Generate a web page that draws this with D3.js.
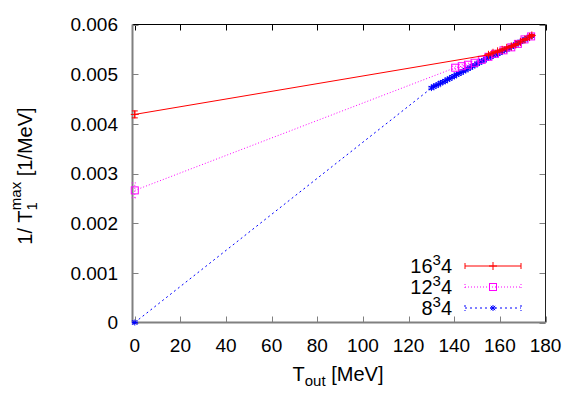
<!DOCTYPE html>
<html>
  <head>
    <meta charset="utf-8">
    <title>1/T1max vs Tout</title>
    <script src="https://d3js.org/d3.v7.min.js"></script>
    <style>
      body { margin: 0; background: #fff; }
      text { font-family: "Liberation Sans", Arial, sans-serif; fill: #000; }
    </style>
  </head>
  <body>
    <script>
      var width = 581, height = 407;

      // tick labels
      var xTicks = [0, 20, 40, 60, 80, 100, 120, 140, 160, 180];
      var yTicks = [0, 0.001, 0.002, 0.003, 0.004, 0.005, 0.006];

      // 16^3 4
      var redT   = [0, 155, 157, 159, 161, 163, 165, 167, 169, 171, 173, 174];
      var redY   = [0.00419, 0.00539, 0.00543, 0.00546, 0.00549, 0.00553, 0.00556, 0.00560, 0.00565, 0.00570, 0.00575, 0.00578];
      var redErr = [0.00007, 0.00002, 0.00002, 0.00002, 0.00002, 0.00002, 0.00002, 0.00002, 0.00002, 0.00002, 0.00002, 0.00002];

      // 12^3 4
      var pinkT   = [0, 140.4, 143.3, 146, 148.9, 152.1, 155, 157.9, 161.6, 165, 167.9, 170.8, 173.7];
      var pinkY   = [0.00266, 0.00513, 0.00516, 0.00519, 0.00523, 0.00529, 0.00535, 0.00541, 0.00548, 0.00554, 0.00561, 0.00570, 0.00576];
      var pinkErr = [0.00015, 0.00003, 0.00003, 0.00003, 0.00003, 0.00003, 0.00003, 0.00003, 0.00003, 0.00003, 0.00003, 0.00003, 0.00003];

      // 8^3 4
      var blueT = [0, 130, 131, 132, 133, 134, 135, 136, 137, 138, 139, 140, 141, 142, 143, 144, 145,
                   146, 147, 148, 149, 150, 151, 152, 153, 154, 155, 156, 157, 158, 159, 160, 161,
                   162, 163, 164, 165, 166, 167, 168, 169, 170, 171, 172, 173, 174];
      var blueY = [0, 0.00472, 0.00475, 0.00477, 0.00479, 0.00482, 0.00484, 0.00486, 0.00489, 0.00491, 0.00494,
                   0.00496, 0.00499, 0.00501, 0.00503, 0.00506, 0.00508, 0.00511, 0.00513, 0.00516, 0.00518,
                   0.00521, 0.00523, 0.00526, 0.00528, 0.00531, 0.00533, 0.00535, 0.00537, 0.00539, 0.00541,
                   0.00543, 0.00546, 0.00548, 0.00550, 0.00552, 0.00555, 0.00557, 0.00560, 0.00562, 0.00565,
                   0.00567, 0.00570, 0.00572, 0.00575, 0.00577];
      var blueErr = 0.00003;

      var series = [
        { base: "16", T: redT, Y: redY, err: redErr, color: "#ff0000", dash: null, mark: "plus" },
        { base: "12", T: pinkT, Y: pinkY, err: pinkErr, color: "#ff00ff", dash: "1,2", mark: "square" },
        { base: "8", T: blueT, Y: blueY, err: blueT.map(() => blueErr), color: "#0000ff", dash: "2,3", mark: "star" }
      ];

      var x = d3.scaleLinear().domain([-1, 180]).range([132.5, 545.5]);
      var y = d3.scaleLinear().domain([0, 0.006]).range([322.5, 24.5]);

      var svg = d3.select("body").append("svg")
          .attr("width", width)
          .attr("height", height);

      svg.append("rect").attr("width", width).attr("height", height).attr("fill", "#fff");

      // ticks (inside, mirrored)
      var tk = svg.append("g").attr("stroke", "#808080").attr("stroke-width", 1);
      xTicks.forEach(function(t) {
        var px = Math.round(x(t)) + 0.5;
        tk.append("line").attr("x1", px).attr("x2", px).attr("y1", y(0)).attr("y2", y(0) - 6);
        tk.append("line").attr("x1", px).attr("x2", px).attr("y1", y(0.006)).attr("y2", y(0.006) + 6).attr("stroke", "#000");
      });
      yTicks.forEach(function(t) {
        var py = Math.round(y(t)) + 0.5;
        tk.append("line").attr("x1", x(-1)).attr("x2", x(-1) + 6).attr("y1", py).attr("y2", py);
        tk.append("line").attr("x1", x(180)).attr("x2", x(180) - 6).attr("y1", py).attr("y2", py);
      });

      // border
      svg.append("line").attr("x1", x(-1)).attr("x2", x(180)).attr("y1", y(0.006)).attr("y2", y(0.006))
          .attr("stroke", "#000");
      svg.append("line").attr("x1", x(180)).attr("x2", x(180)).attr("y1", y(0.006)).attr("y2", y(0))
          .attr("stroke", "#222");
      svg.append("line").attr("x1", x(-1)).attr("x2", x(180)).attr("y1", y(0)).attr("y2", y(0))
          .attr("stroke", "#808080").attr("stroke-width", 2);
      svg.append("line").attr("x1", x(-1)).attr("x2", x(-1)).attr("y1", y(0.006)).attr("y2", y(0))
          .attr("stroke", "#808080").attr("stroke-width", 2);

      // tick labels
      svg.append("g").selectAll("text").data(xTicks).join("text")
          .attr("x", d => x(d)).attr("y", 352)
          .attr("text-anchor", "middle").attr("font-size", 19)
          .text(d => d);
      svg.append("g").selectAll("text").data(yTicks).join("text")
          .attr("x", 118).attr("y", d => y(d)).attr("dy", "0.36em")
          .attr("text-anchor", "end").attr("font-size", 19)
          .text(d => d === 0 ? "0" : d3.format(".3f")(d));

      // axis titles
      var xl = svg.append("text").attr("x", 338).attr("y", 381)
          .attr("text-anchor", "middle").attr("font-size", 20);
      xl.append("tspan").text("T");
      xl.append("tspan").attr("font-size", 15).attr("dy", 5).text("out");
      xl.append("tspan").attr("dy", -5).text(" [MeV]");

      var yl = svg.append("text").attr("transform", "translate(32,176) rotate(-90)")
          .attr("text-anchor", "middle").attr("font-size", 20);
      yl.append("tspan").text("1/ T");
      yl.append("tspan").attr("font-size", 15).attr("dy", 5).text("1");
      yl.append("tspan").attr("font-size", 15).attr("dx", -8).attr("dy", -16).text("max");
      yl.append("tspan").attr("dy", 11).text(" [1/MeV]");

      function drawMark(g, kind, cx, cy, color) {
        if (kind === "plus") {
          g.append("path").attr("d", "M" + (cx - 4) + "," + cy + "H" + (cx + 4) + "M" + cx + "," + (cy - 4) + "V" + (cy + 4))
            .attr("stroke", color).attr("fill", "none");
        } else if (kind === "square") {
          g.append("rect").attr("x", cx - 3.5).attr("y", cy - 3.5).attr("width", 7).attr("height", 7)
            .attr("stroke", color).attr("fill", "none");
        } else {
          g.append("path").attr("d", "M" + (cx - 3) + "," + cy + "H" + (cx + 3) + "M" + cx + "," + (cy - 3) + "V" + (cy + 3) +
              "M" + (cx - 2.2) + "," + (cy - 2.2) + "L" + (cx + 2.2) + "," + (cy + 2.2) +
              "M" + (cx - 2.2) + "," + (cy + 2.2) + "L" + (cx + 2.2) + "," + (cy - 2.2))
            .attr("stroke", color).attr("fill", "none");
        }
      }

      var line = d3.line().x(d => x(d[0])).y(d => y(d[1]));

      // draw blue first so red sits on top, like the reference
      series.slice().reverse().forEach(function(s) {
        var g = svg.append("g");
        var pts = s.T.map((t, i) => [t, s.Y[i], s.err[i]]);
        g.append("path").attr("d", line(pts)).attr("fill", "none")
          .attr("stroke", s.color).attr("stroke-width", 1)
          .attr("stroke-dasharray", s.dash);
        pts.forEach(function(p) {
          var cx = x(p[0]), y1 = y(p[1] - p[2]), y2 = y(p[1] + p[2]);
          g.append("path")
            .attr("d", "M" + cx + "," + y1 + "V" + y2 + "M" + (cx - 3) + "," + y1 + "H" + (cx + 3) + "M" + (cx - 3) + "," + y2 + "H" + (cx + 3))
            .attr("stroke", s.color).attr("fill", "none").attr("stroke-dasharray", s.dash);
          drawMark(g, s.mark, cx, y(p[1]), s.color);
        });
      });

      // legend
      var legY = [266, 287, 308];
      series.forEach(function(s, i) {
        var t = svg.append("text").attr("x", 452).attr("y", legY[i]).attr("dy", "0.36em")
            .attr("text-anchor", "end").attr("font-size", 20);
        t.append("tspan").text(s.base);
        t.append("tspan").attr("font-size", 15).attr("dy", -8).text("3");
        t.append("tspan").attr("dy", 8).text("4");
        var g = svg.append("g");
        g.append("path")
          .attr("d", "M465," + legY[i] + "H521M465," + (legY[i] - 3) + "V" + (legY[i] + 3) + "M521," + (legY[i] - 3) + "V" + (legY[i] + 3))
          .attr("stroke", s.color).attr("fill", "none").attr("stroke-dasharray", s.dash);
        drawMark(g, s.mark, 493, legY[i], s.color);
      });
    </script>
  </body>
</html>
